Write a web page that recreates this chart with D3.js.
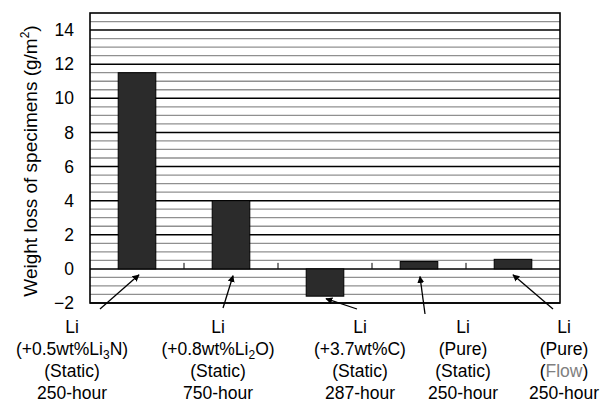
<!DOCTYPE html>
<html>
<head>
  <meta charset="utf-8">
  <title>Weight loss of specimens</title>
  <script src="https://cdn.jsdelivr.net/npm/d3@7"></script>
  <style>
    body { margin: 0; background: #fff; }
    text { font-family: Arial, "Liberation Sans", sans-serif; fill: #000; }
  </style>
</head>
<body>
  <div id="chart"></div>
  <script>
    // Data
    const categories = ["Li3N", "Li2O", "C", "PureStatic", "PureFlow"];
    const weightLoss = [11.5, 4.0, -1.6, 0.43, 0.56];
    const yTicks = [-2, 0, 2, 4, 6, 8, 10, 12, 14];

    // Label text, one array per line; "_x" marks a subscript
    const labelLine1 = ["Li", "Li", "Li", "Li", "Li"];
    const labelLine2 = ["(+0.5wt%Li_3N)", "(+0.8wt%Li_2O)", "(+3.7wt%C)", "(Pure)", "(Pure)"];
    const labelLine3 = ["(Static)", "(Static)", "(Static)", "(Static)", "(Flow)"];
    const labelLine4 = ["250-hour", "750-hour", "287-hour", "250-hour", "250-hour"];

    // Label centres and arrow geometry (tails in px, tips relative to the bars)
    const labelX = [72, 218, 360, 463, 564];
    const arrowTailX = [100, 223, 357, 425, 553];
    const arrowTailY = [309, 308, 309, 314, 309];
    const arrowTipDx = [2, 2, 1, 1, 0];
    const arrowTipValue = [-0.35, -0.4, -1.75, -0.45, -0.35];

    const width = 600, height = 403;
    const margin = { top: 13, right: 40, bottom: 100, left: 90 };
    const plotBottom = height - margin.bottom; // 303
    const fontSize = 17.5;

    const svg = d3.select("#chart").append("svg")
        .attr("width", width)
        .attr("height", height);

    const x = d3.scaleBand()
        .domain(categories)
        .range([margin.left, width - margin.right])
        .paddingInner(0.6)
        .paddingOuter(0.3);

    const y = d3.scaleLinear()
        .domain([-2, 15])
        .range([plotBottom, margin.top]);

    // Minor gridlines every 0.5
    const minor = d3.range(-1.5, 15, 0.5).filter(v => v % 2 !== 0);
    svg.append("g")
        .selectAll("line")
        .data(minor)
        .enter().append("line")
        .attr("x1", margin.left).attr("x2", width - margin.right)
        .attr("y1", d => y(d)).attr("y2", d => y(d))
        .attr("stroke", "#909090")
        .attr("stroke-width", 1.3);

    // Major gridlines
    svg.append("g")
        .selectAll("line")
        .data(yTicks)
        .enter().append("line")
        .attr("x1", margin.left).attr("x2", width - margin.right)
        .attr("y1", d => y(d)).attr("y2", d => y(d))
        .attr("stroke", "#000")
        .attr("stroke-width", 1.5);

    // Bars
    svg.selectAll(".bar")
        .data(weightLoss)
        .enter().append("rect")
        .attr("class", "bar")
        .attr("x", (d, i) => x(categories[i]))
        .attr("y", d => y(Math.max(0, d)))
        .attr("width", x.bandwidth())
        .attr("height", d => Math.abs(y(d) - y(0)))
        .attr("fill", "#2b2b2b")
        .attr("stroke", "#000")
        .attr("stroke-width", 1);

    // Category separator ticks on the zero line
    const step = x.step();
    svg.append("g")
        .selectAll("line")
        .data(categories.slice(1))
        .enter().append("line")
        .attr("x1", (d, i) => margin.left + step * (i + 1))
        .attr("x2", (d, i) => margin.left + step * (i + 1))
        .attr("y1", y(0))
        .attr("y2", y(0) - 6)
        .attr("stroke", "#000")
        .attr("stroke-width", 1);

    // Plot border
    svg.append("rect")
        .attr("x", margin.left)
        .attr("y", margin.top)
        .attr("width", width - margin.left - margin.right)
        .attr("height", plotBottom - margin.top)
        .attr("fill", "none")
        .attr("stroke", "#000")
        .attr("stroke-width", 1.6);

    // Y axis labels
    const yAxis = svg.append("g")
        .attr("transform", `translate(${margin.left},0)`)
        .call(d3.axisLeft(y).tickValues(yTicks).tickSize(0).tickPadding(16));
    yAxis.select(".domain").remove();
    yAxis.selectAll("text")
        .attr("font-size", fontSize)
        .attr("font-family", "Arial, 'Liberation Sans', sans-serif")
        .attr("fill", "#000");

    // Y title
    const title = svg.append("text")
        .attr("transform", "translate(37,161) rotate(-90)")
        .attr("text-anchor", "middle")
        .attr("font-size", 19);
    title.append("tspan").text("Weight loss of specimens (g/m");
    title.append("tspan").attr("font-size", 12).attr("dy", -8).text("2");
    title.append("tspan").attr("dy", 8).text(")");

    // Arrows
    svg.append("defs").append("marker")
        .attr("id", "head")
        .attr("viewBox", "0 0 10 10")
        .attr("refX", 9).attr("refY", 5)
        .attr("markerWidth", 7).attr("markerHeight", 7)
        .attr("markerUnits", "userSpaceOnUse")
        .attr("orient", "auto")
        .append("path")
        .attr("d", "M0,0 L10,5 L0,10 z")
        .attr("fill", "#000");

    svg.append("g")
        .selectAll("line")
        .data(weightLoss)
        .enter().append("line")
        .attr("x1", (d, i) => arrowTailX[i])
        .attr("y1", (d, i) => arrowTailY[i])
        .attr("x2", (d, i) => x(categories[i]) + x.bandwidth() / 2 + arrowTipDx[i])
        .attr("y2", (d, i) => y(arrowTipValue[i]))
        .attr("stroke", "#000")
        .attr("stroke-width", 1.3)
        .attr("marker-end", "url(#head)");

    // Category labels
    function addLine(g, str, yy, i) {
      const t = g.append("text")
          .attr("x", labelX[i])
          .attr("y", yy)
          .attr("text-anchor", "middle")
          .attr("font-size", fontSize);
      const parts = str.split(/_(\d)/);
      parts.forEach((p, k) => {
        if (p === "") return;
        if (k % 2 === 1) {
          t.append("tspan").attr("font-size", 12).attr("dy", 4).text(p);
        } else {
          const s = t.append("tspan").text(p);
          if (k > 0) s.attr("dy", -4);
        }
      });
      return t;
    }

    const lineY = [333, 355, 377, 399];
    const labels = svg.append("g");
    categories.forEach((c, i) => {
      addLine(labels, labelLine1[i], lineY[0], i);
      addLine(labels, labelLine2[i], lineY[1], i);
      if (labelLine3[i] === "(Flow)") {
        const t = labels.append("text")
            .attr("x", labelX[i]).attr("y", lineY[2])
            .attr("text-anchor", "middle").attr("font-size", fontSize);
        t.append("tspan").text("(");
        t.append("tspan").style("fill", "#808080").text("Flow");
        t.append("tspan").text(")");
      } else {
        addLine(labels, labelLine3[i], lineY[2], i);
      }
      addLine(labels, labelLine4[i], lineY[3], i);
    });
  </script>
</body>
</html>
